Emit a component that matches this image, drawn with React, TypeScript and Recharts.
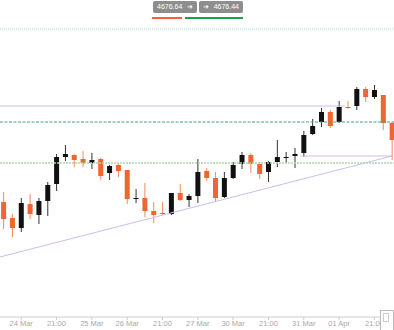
import { ComposedChart, Bar, XAxis, YAxis, ReferenceLine } from "recharts";

const candleIndex = Array.from({ length: 45 }, (_, i) => i);
const opens = [
  4639, 4631, 4626, 4638, 4632.5, 4639.5, 4648, 4661.5, 4662.5, 4660.5, 4658.5, 4660.5, 4653.5, 4657.5, 4655,
  4640.5, 4641, 4634.5, 4633.5, 4633, 4643.5, 4640, 4642, 4654.5, 4651, 4641.5, 4651, 4658, 4662.5, 4658,
  4654, 4659, 4661, 4662, 4663.5, 4673, 4679, 4684, 4679, 4686.5, 4687, 4695.5, 4691.5, 4692.5, 4678.5,
];
const highs = [
  4644, 4633, 4641, 4643, 4641, 4649, 4663, 4667.5, 4663, 4664.5, 4663.5, 4661, 4657.5, 4658.5, 4655,
  4645.5, 4648.5, 4639, 4639, 4643.5, 4648, 4643, 4660.5, 4656, 4654, 4654, 4659, 4664, 4663.5, 4659,
  4659.5, 4670, 4664, 4666, 4674.5, 4680.5, 4686, 4685, 4689.5, 4689.5, 4696.5, 4696.5, 4697.5, 4692.5, 4679,
];
const lows = [
  4625.5, 4621.5, 4624, 4630.5, 4628, 4632, 4644.5, 4659.5, 4656.5, 4656.5, 4655.5, 4650, 4650, 4651.5, 4638,
  4638.5, 4631.5, 4628.5, 4632.5, 4632.5, 4639.5, 4636.5, 4638.5, 4649.5, 4639, 4641, 4650.5, 4655.5, 4653.5, 4650.5,
  4649, 4656.5, 4658.5, 4656, 4661.5, 4672.5, 4676.5, 4676, 4678.5, 4685.5, 4685, 4689, 4690.5, 4675, 4660,
];
const closes = [
  4630.5, 4626, 4638.5, 4633, 4639.5, 4647.5, 4661.5, 4663, 4660, 4658.5, 4660, 4652, 4657, 4654.5, 4640.5,
  4641, 4634.5, 4632.5, 4633, 4643.5, 4640, 4642, 4654, 4651, 4641, 4651, 4657.5, 4662.5, 4658, 4653,
  4659, 4661.5, 4661.5, 4663, 4672.5, 4677, 4684, 4677, 4686.5, 4686, 4695.5, 4691.5, 4695, 4678.5, 4670,
];

const tickIndex = [2, 6, 10, 14, 18, 22, 26, 30, 34, 38, 42];
const tickLabels = ["24 Mar", "21:00", "25 Mar", "26 Mar", "21:00", "27 Mar", "30 Mar", "21:00", "31 Mar", "01 Apr", "21:00"];

const upperLevel = 4725.5;
const resistance = 4687;
const pivotLevel = 4679;
const supportLevel = 4658.5;
const lastLow = 4662;
const trendStart = 4611.5;

const data = candleIndex.map((i) => ({
  i,
  open: opens[i],
  high: highs[i],
  low: lows[i],
  close: closes[i],
  range: [lows[i], highs[i]],
}));

const Candle = (props: any) => {
  const { x, y, width, height, payload } = props;
  const { open, close, high, low } = payload;
  const span = high - low || 1;
  const yOpen = y + ((high - open) / span) * height;
  const yClose = y + ((high - close) / span) * height;
  const up = close > open;
  const color = up ? "#111111" : "#f26430";
  const cx = x + width / 2;
  const top = Math.min(yOpen, yClose);
  const bodyH = Math.max(Math.abs(yOpen - yClose), 1);
  return (
    <g>
      <line x1={cx} x2={cx} y1={y} y2={y + height} stroke={up ? "#333" : "#f48a60"} strokeWidth={1} />
      <rect x={x} y={top} width={width} height={bodyH} fill={color} />
    </g>
  );
};

const Badge = ({ left, width, children }: any) => (
  <div
    style={{
      position: "absolute",
      top: 1,
      left,
      width,
      height: 12,
      background: "#8e8e8e",
      borderRadius: 2,
      color: "#fff",
      fontSize: 7,
      lineHeight: "12px",
      display: "flex",
      justifyContent: "space-between",
      padding: "0 4px",
      boxSizing: "border-box",
    }}
  >
    {children}
  </div>
);

export default function App() {
  return (
    <div
      style={{
        position: "absolute",
        left: 0,
        top: 0,
        width: 394,
        height: 330,
        overflow: "hidden",
        background: "#fff",
        fontFamily: "'Liberation Sans', Arial, sans-serif",
      }}
    >
      <ComposedChart width={394} height={330} data={data} margin={{ top: 0, right: 0, left: 0, bottom: 0 }}>
        <XAxis
          dataKey="i"
          type="number"
          domain={[-0.4, 44.22]}
          allowDataOverflow
          ticks={tickIndex}
          tickFormatter={(v: number) => tickLabels[tickIndex.indexOf(v)] ?? ""}
          height={13}
          tickSize={3}
          tickMargin={1}
          stroke="#cccccc"
          tick={{ fill: "#a8a8a8", fontSize: 7.5 }}
        />
        <YAxis hide domain={[4581.5, 4740]} allowDataOverflow />
        <ReferenceLine y={upperLevel} stroke="#a9d9cf" strokeDasharray="1 1" />
        <ReferenceLine y={pivotLevel} stroke="#4f9e8c" strokeDasharray="3 1.5" />
        <ReferenceLine y={supportLevel} stroke="#a8dca8" strokeWidth={1.5} strokeDasharray="2 1" />
        <ReferenceLine
          segment={[{ x: -0.4, y: resistance }, { x: 38.7, y: resistance }]}
          stroke="#cdbde8"
        />
        <ReferenceLine
          segment={[{ x: 33.6, y: lastLow }, { x: 44, y: lastLow }]}
          stroke="#cdbde8"
        />
        <ReferenceLine
          segment={[{ x: -0.4, y: trendStart }, { x: 44, y: lastLow }]}
          stroke="#cdbde8"
        />
        <Bar dataKey="range" barSize={5} shape={<Candle />} isAnimationActive={false} />
      </ComposedChart>
      <Badge left={153} width={44}>
        <span>4676.64</span>
        <span>➜</span>
      </Badge>
      <Badge left={199} width={44}>
        <span>➜</span>
        <span>4676.44</span>
      </Badge>
      <div style={{ position: "absolute", top: 17, left: 152, width: 30, height: 2, background: "#f26430" }} />
      <div style={{ position: "absolute", top: 17, left: 185, width: 58, height: 2, background: "#1f9e4d" }} />
      <div
        style={{
          position: "absolute",
          top: 310,
          left: 380,
          width: 14,
          height: 22,
          border: "1px solid #bbbbbb",
          background: "#fff",
          boxSizing: "border-box",
        }}
      >
        <div style={{ position: "absolute", top: 2, left: 2, width: 4, height: 7, border: "1px solid #cccccc" }} />
      </div>
    </div>
  );
}
